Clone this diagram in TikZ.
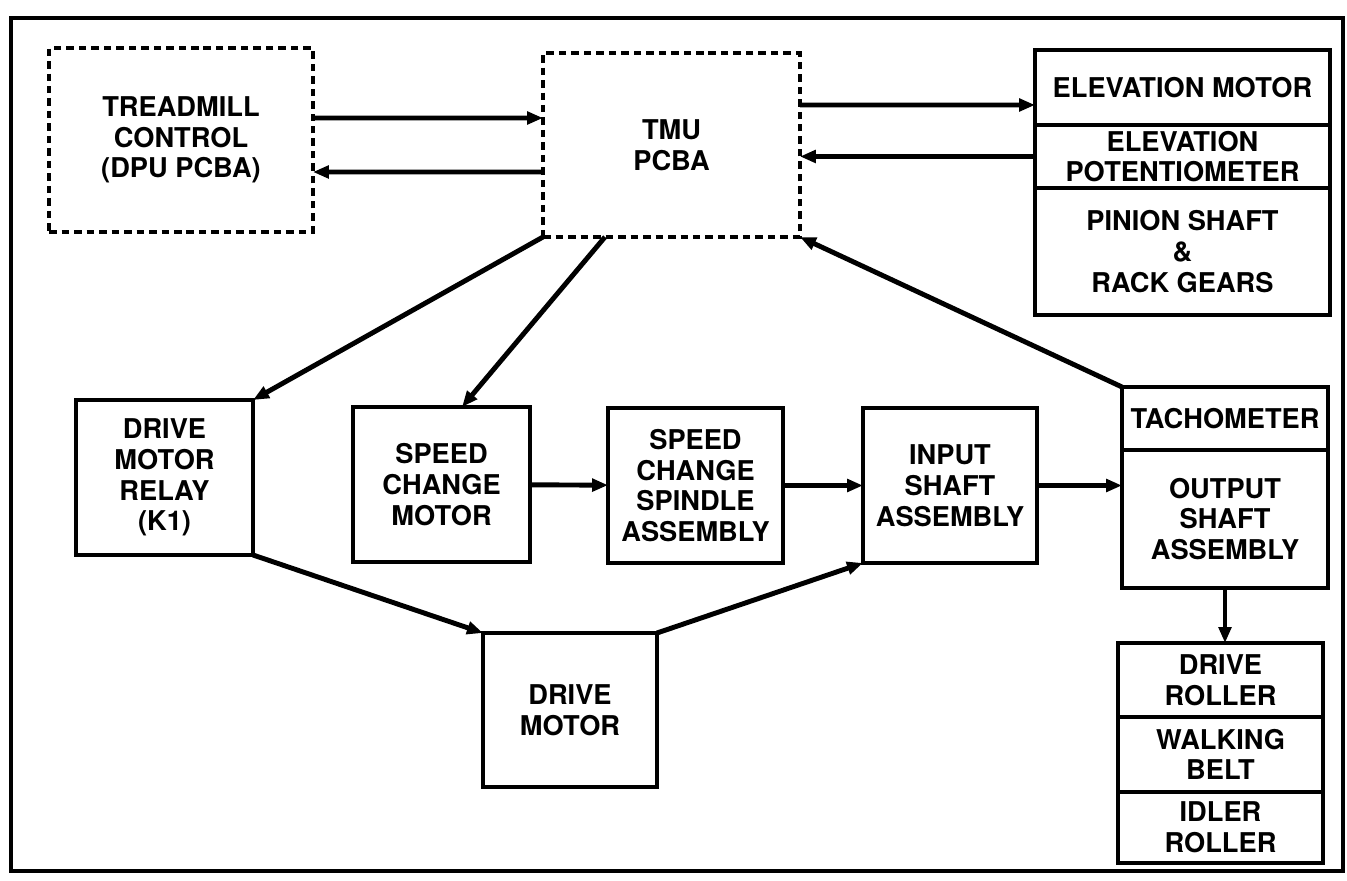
\documentclass[tikz,border=0pt]{standalone}
\usepackage{fontspec}
\setmainfont{TeX Gyre Heros}
\usetikzlibrary{arrows.meta,positioning}

\begin{document}
\begin{tikzpicture}[x=0.02cm, y=-0.02cm,
    box/.style={rectangle, draw=black, line width=2pt, align=center, inner sep=1pt, outer sep=0pt,
                font=\bfseries\fontsize{15.5}{17.5}\selectfont},
    pcb/.style={box, line width=2.3pt, dash pattern=on 0.15cm off 0.1cm},
    arrow/.style={-{Triangle[length=0.32cm, width=0.25cm]}, line width=2.8pt},
    frame/.style={line width=2.2pt}]

    \useasboundingbox (0,0) rectangle (1347,881);
    \draw[frame] (11,18) rectangle (1343,871);

    \node[pcb, minimum width=5.28cm, minimum height=3.68cm] (tc) at (181,140) {TREADMILL\\CONTROL\\(DPU PCBA)};
    \node[pcb, minimum width=5.14cm, minimum height=3.68cm] (tmu) at (671.5,145) {TMU\\PCBA};

    \node[box, minimum width=5.9cm, minimum height=1.5cm] (em) at (1182.5,87.5) {ELEVATION MOTOR};
    \node[box, minimum width=5.9cm, minimum height=1.26cm, below=0pt of em] (pot) {ELEVATION\\POTENTIOMETER};
    \node[box, minimum width=5.9cm, minimum height=2.54cm, below=0pt of pot] (pin) {PINION SHAFT\\\&\\RACK GEARS};

    \node[box, minimum width=3.54cm, minimum height=3.1cm] (relay) at (164.5,477.5) {DRIVE\\MOTOR\\RELAY\\(K1)};
    \node[box, minimum width=3.54cm, minimum height=3.1cm] (scm) at (441.5,484.5) {SPEED\\CHANGE\\MOTOR};
    \node[box, minimum width=3.5cm, minimum height=3.1cm] (spindle) at (695.5,485.5) {SPEED\\CHANGE\\SPINDLE\\ASSEMBLY};
    \node[box, minimum width=3.48cm, minimum height=3.1cm] (input) at (950,485.5) {INPUT\\SHAFT\\ASSEMBLY};
    \node[box, minimum width=3.48cm, minimum height=3.08cm] (dm) at (570,710) {DRIVE\\MOTOR};

    \node[box, minimum width=4.12cm, minimum height=1.26cm] (tacho) at (1225,418.5) {TACHOMETER};
    \node[box, minimum width=4.12cm, minimum height=2.76cm, below=0pt of tacho] (output) {OUTPUT\\SHAFT\\ASSEMBLY};

    \node[box, minimum width=4.1cm, minimum height=1.48cm] (droller) at (1220.5,680) {DRIVE\\ROLLER};
    \node[box, minimum width=4.1cm, minimum height=1.5cm, below=0pt of droller] (belt) {WALKING\\BELT};
    \node[box, minimum width=4.1cm, minimum height=1.42cm, below=0pt of belt] (idler) {IDLER\\ROLLER};

    \draw[arrow] ([yshift=0.44cm]tc.east) -- ([yshift=0.54cm]tmu.west);
    \draw[arrow] ([yshift=-0.54cm]tmu.west) -- ([yshift=-0.64cm]tc.east);
    \draw[arrow] ([yshift=0.8cm]tmu.east) -- ([yshift=-0.35cm]em.west);
    \draw[arrow] (pot.west) -- (pot.west -| tmu.east);
    \draw[arrow] (tmu.south west) -- (relay.north east);
    \draw[arrow] ([xshift=1.24cm]tmu.south west) -- ([xshift=0.41cm]scm.north);
    \draw[arrow] (tacho.north west) -- (tmu.south east);
    \draw[arrow] (scm) -- (spindle);
    \draw[arrow] (spindle) -- (input);
    \draw[arrow] (input.east) -- (input.east -| output.west);
    \draw[arrow] (relay.south east) -- (dm.north west);
    \draw[arrow] (dm.north east) -- (input.south west);
    \draw[arrow] (output.south) -- (output.south |- droller.north);
\end{tikzpicture}
\end{document}
